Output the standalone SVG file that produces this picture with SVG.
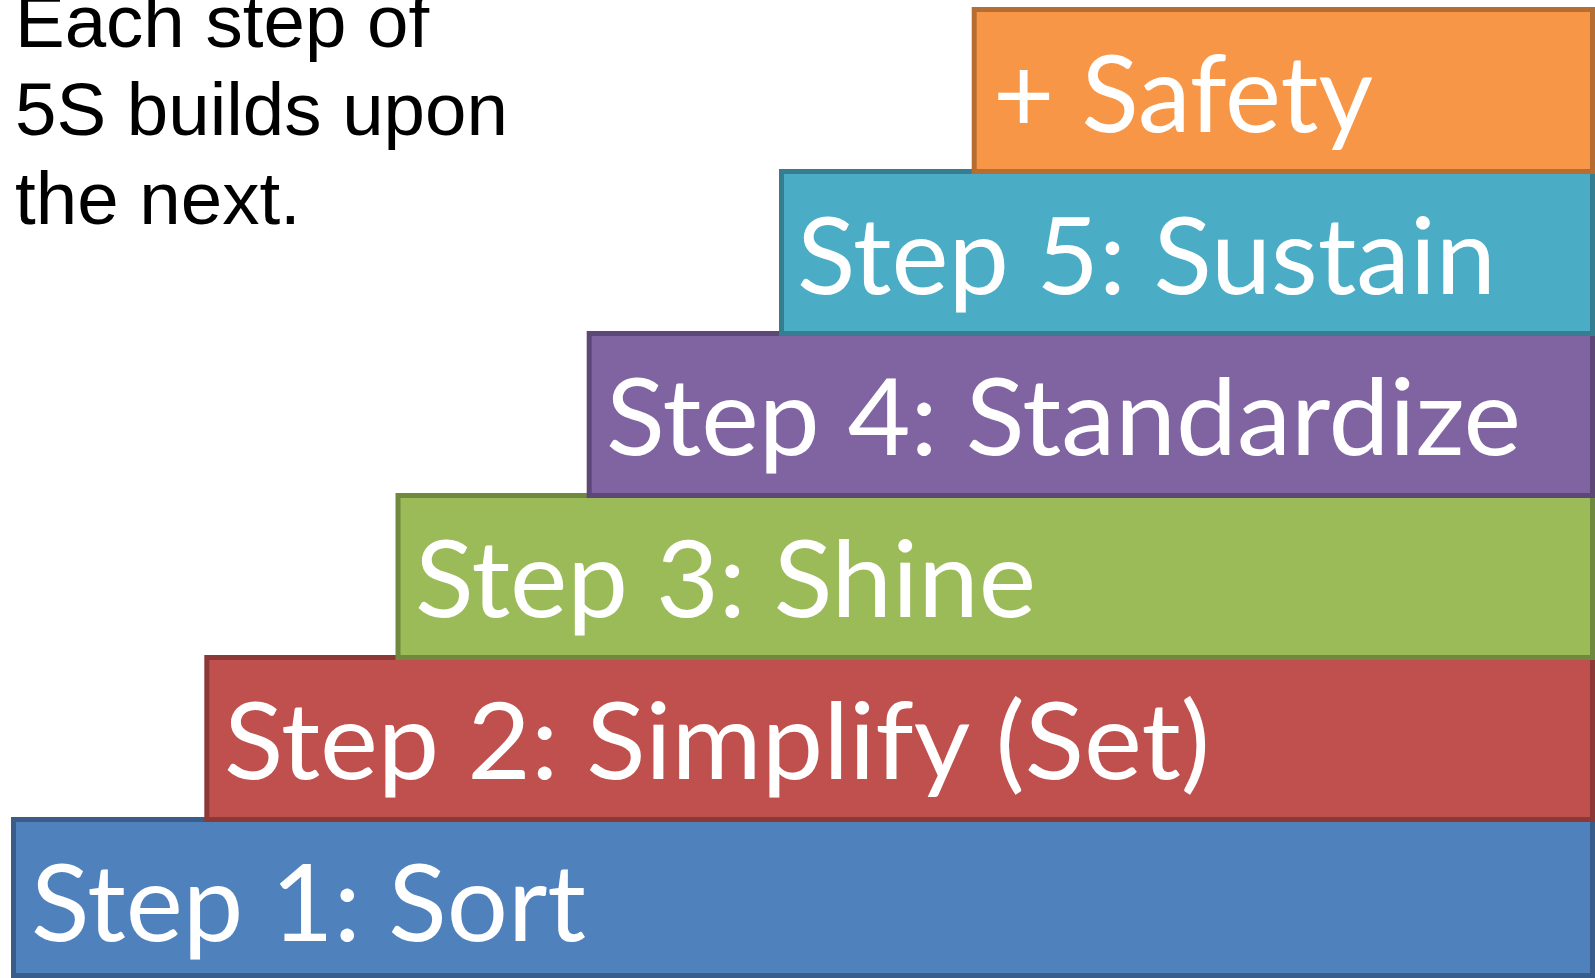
<svg xmlns="http://www.w3.org/2000/svg" width="1595" height="978" viewBox="0 0 1595 978">
<style>
.box{stroke-width:5}
.lbl{font-family:Lato,"Open Sans","Liberation Sans",sans-serif;font-size:106px;fill:#FFFFFF}
.intro{font-family:"Liberation Sans",Arial,sans-serif;font-size:74.5px;fill:#000000}
</style>
<rect width="1595" height="978" fill="#FFFFFF"/>
<g id="intro">
<text class="intro" x="15" y="47">Each step of</text>
<text class="intro" x="15" y="135">5S builds upon</text>
<text class="intro" x="15" y="224">the next.</text>
</g>
<g id="step1">
<rect class="box" x="13.5" y="819.5" width="1579" height="156" fill="#4F81BD" stroke="#385D8A"/>
<text class="lbl" x="31" y="941" textLength="555" lengthAdjust="spacingAndGlyphs">Step 1: Sort</text>
</g>
<g id="step2">
<rect class="box" x="206.8" y="657.5" width="1385.7" height="162" fill="#C0504D" stroke="#8C3836"/>
<text class="lbl" x="224" y="779" textLength="986" lengthAdjust="spacingAndGlyphs">Step 2: Simplify (Set)</text>
</g>
<g id="step3">
<rect class="box" x="398" y="495.5" width="1194.5" height="162" fill="#9BBB59" stroke="#71893F"/>
<text class="lbl" x="415" y="617" textLength="621" lengthAdjust="spacingAndGlyphs">Step 3: Shine</text>
</g>
<g id="step4">
<rect class="box" x="589.2" y="333.5" width="1003.3" height="162" fill="#8064A2" stroke="#5C4776"/>
<text class="lbl" x="606" y="455" textLength="915" lengthAdjust="spacingAndGlyphs">Step 4: Standardize</text>
</g>
<g id="step5">
<rect class="box" x="781.5" y="171.5" width="811" height="162" fill="#4BACC6" stroke="#357D91"/>
<text class="lbl" x="797" y="294" textLength="699" lengthAdjust="spacingAndGlyphs">Step 5: Sustain</text>
</g>
<g id="safety">
<rect class="box" x="974.2" y="9.5" width="618.3" height="162" fill="#F79646" stroke="#B66D31"/>
<text class="lbl" x="993" y="132" textLength="380" lengthAdjust="spacingAndGlyphs">+ Safety</text>
</g>
<g id="connectors"/>
</svg>
